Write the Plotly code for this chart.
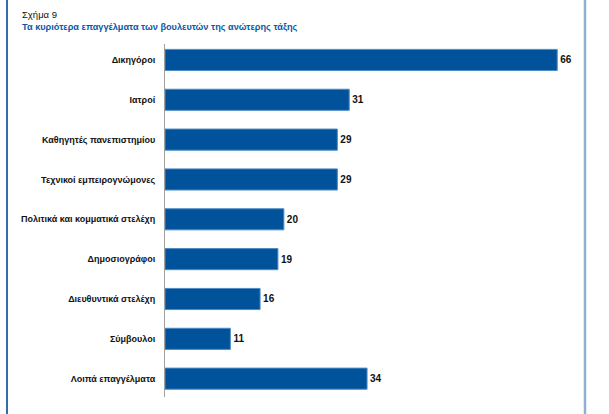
import plotly.graph_objects as go

categories = ["Δικηγόροι", "Ιατροί", "Καθηγητές πανεπιστημίου", "Τεχνικοί εμπειρογνώμονες",
              "Πολιτικά και κομματικά στελέχη", "Δημοσιογράφοι", "Διευθυντικά στελέχη",
              "Σύμβουλοι", "Λοιπά επαγγέλματα"]
values = [66, 31, 29, 29, 20, 19, 16, 11, 34]
title_line1 = "Σχήμα 9"
title_line2 = "Τα κυριότερα επαγγέλματα των βουλευτών της ανώτερης τάξης"

W, H = 609, 414
ML, MR, MT, MB = 165, 28, 44, 17
pw = W - ML - MR
ph = H - MT - MB
FONT = "Liberation Sans, Arial, sans-serif"

def px_to_paper_x(px):
    return (px - ML) / pw

def px_to_paper_y(py):
    return 1 - (py - MT) / ph

fig = go.Figure(go.Bar(
    x=values, y=list(range(len(categories))), orientation="h",
    marker=dict(color="#00539b", line=dict(color="#4f8bc4", width=1)),
    width=0.53,
    text=[str(v) for v in values], textposition="outside",
    textfont=dict(family=FONT, size=10, color="#111111"),
    texttemplate="<b>%{text}</b>",
    cliponaxis=False,
))

fig.update_layout(
    width=W, height=H,
    margin=dict(l=ML, r=MR, t=MT, b=MB, autoexpand=False),
    plot_bgcolor="white", paper_bgcolor="white",
    showlegend=False,
    font=dict(family=FONT, color="#111111"),
    xaxis=dict(range=[0, 70], visible=False),
    yaxis=dict(
        range=[8.46, -0.40], automargin=False,
        tickmode="array", tickvals=list(range(len(categories))),
        ticktext=["<b>%s</b>" % c for c in categories],
        tickfont=dict(family=FONT, size=9, color="#111111"),
        showline=True, linecolor="#a0a0a0", linewidth=1,
        ticks="", showgrid=False, zeroline=False,
        ticklabelstandoff=7,
    ),
    annotations=[
        dict(text=title_line1, xref="paper", yref="paper",
             x=px_to_paper_x(20), y=px_to_paper_y(15),
             xanchor="left", yanchor="middle", showarrow=False,
             font=dict(family=FONT, size=9.5, color="#111111")),
        dict(text="<b>%s</b>" % title_line2, xref="paper", yref="paper",
             x=px_to_paper_x(20), y=px_to_paper_y(27),
             xanchor="left", yanchor="middle", showarrow=False,
             font=dict(family=FONT, size=9.2, color="#0a5aa5")),
    ],
    shapes=[
        dict(type="line", xref="paper", yref="paper",
             x0=px_to_paper_x(7), x1=px_to_paper_x(7), y0=-1, y1=2,
             line=dict(color="#2f6fb0", width=2)),
        dict(type="line", xref="paper", yref="paper",
             x0=px_to_paper_x(585), x1=px_to_paper_x(585), y0=-1, y1=2,
             line=dict(color="#8fb0d6", width=2.5)),
    ],
)

fig.write_html("out.html", config={"displayModeBar": False},
               post_script="document.body.style.margin='0';document.body.style.overflow='hidden';")
